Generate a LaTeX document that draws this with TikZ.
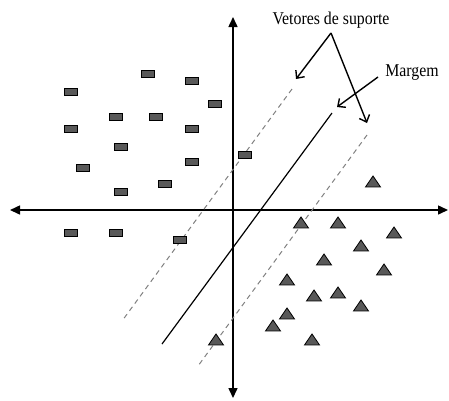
\documentclass[tikz,border=0pt]{standalone}
\usepackage{fontspec}
\setmainfont{Liberation Serif}
\usetikzlibrary{arrows.meta,shapes.geometric}
\begin{document}
\begin{tikzpicture}[x=1pt,y=-1pt,
  axis/.style={line width=1.5pt,-{Triangle[length=10pt,width=9pt]}},
  sq/.style={draw=black,fill=black!65,line width=0.8pt,minimum width=13pt,minimum height=7.5pt,inner sep=0pt},
  tri/.style={draw=black,fill=black!65,line width=0.8pt,isosceles triangle,isosceles triangle stretches,shape border rotate=90,minimum width=15pt,minimum height=11pt,inner sep=0pt},
  sv/.style={draw=black!50,dashed,dash pattern=on 5pt off 4pt,line width=1pt},
  hyp/.style={line width=1.2pt},
  ann/.style={line width=1.4pt,-{Straight Barb[length=6pt,width=11pt]}},
  lbl/.style={inner sep=0pt,font=\fontsize{18}{20}\selectfont}
]
\useasboundingbox (0,0) rectangle (449,400);
% axes
\coordinate (xl) at (233,210);
\coordinate (xw) at (10,210);
\coordinate (xe) at (448,210);
\coordinate (yn) at (233,17);
\coordinate (ys) at (233,398);
\draw[axis] (xl) -- (xw);
\draw[axis] (xl) -- (xe);
\draw[axis] (xl) -- (yn);
\draw[axis] (xl) -- (ys);
% separating lines
\coordinate (h1) at (332,113); \coordinate (h2) at (162,344);
\coordinate (a1) at (292,89);  \coordinate (a2) at (122,321);
\coordinate (b1) at (367,135); \coordinate (b2) at (198,366);
\draw[hyp] (h1) -- (h2);
\draw[sv] (a1) -- (a2);
\draw[sv] (b1) -- (b2);
% rectangles
\foreach \p [count=\i] in {(148,74),(192,81),(71,92),(215,104),(116,117),(156,117),(71,129),(192,129),(121,147),(245,155),(192,162),(83,168),(165,184),(121,192),(71,233),(116,233),(180,240)}
  \node[sq] (r\i) at \p {};
% triangles
\foreach \p [count=\i] in {(373,183),(301,224),(338,224),(394,234),(361,247),(324,261),(384,271),(287,281),(314,297),(338,294),(361,307),(287,315),(273,327),(216,341),(312,341)}
  \node[tri] (t\i) at \p {};
% labels
\node[lbl,anchor=base] (vet) at (331,24) {\scalebox{0.88}[1]{Vetores de suporte}};
\node[lbl,anchor=base] (mar) at (412,76) {\scalebox{0.88}[1]{Margem}};
\coordinate (vs) at (331,33);
\coordinate (vt1) at (296,79);
\coordinate (vt2) at (367,123);
\coordinate (ms) at (378,77);
\coordinate (mt) at (337,107);
\draw[ann] (vs) -- (vt1);
\draw[ann] (vs) -- (vt2);
\draw[ann] (ms) -- (mt);
\end{tikzpicture}
\end{document}
